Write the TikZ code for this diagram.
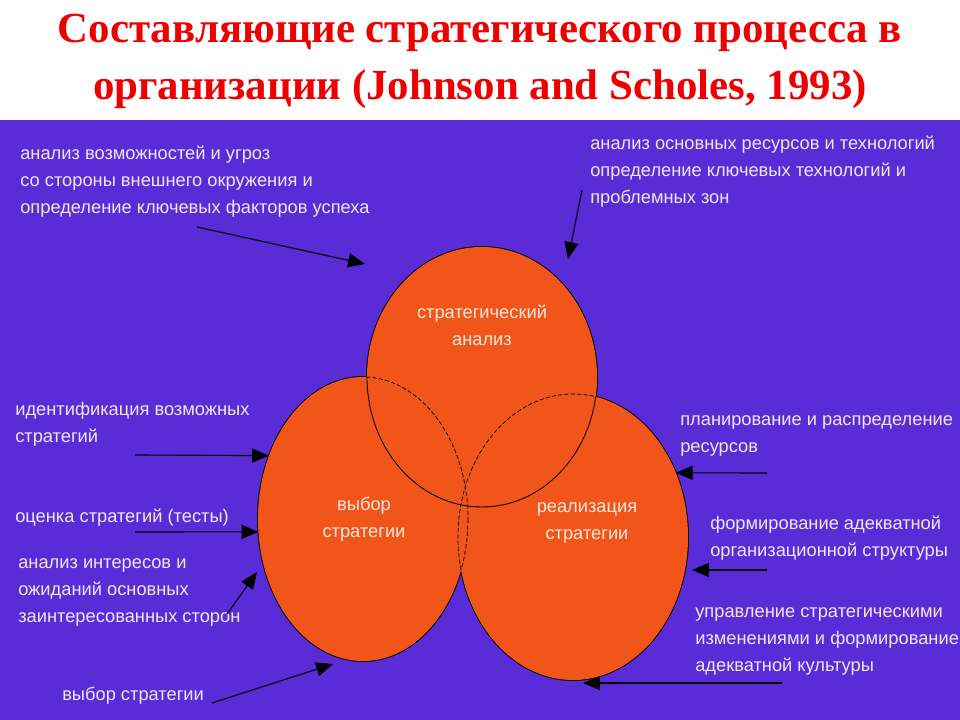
\documentclass[tikz,border=0pt]{standalone}
\usepackage{fontspec}
\setmainfont{Liberation Serif}
\setsansfont{Liberation Sans}
\usetikzlibrary{shapes.geometric,arrows.meta}
\pgfdeclarelayer{bg}
\pgfsetlayers{bg,main}
\definecolor{fon}{HTML}{5A2CD8}
\definecolor{krug}{HTML}{F2551A}
\definecolor{zag}{HTML}{EE0000}
\definecolor{txt}{HTML}{EEE6F4}
\definecolor{txtk}{HTML}{F8E6DA}

\begin{document}
\begin{tikzpicture}[x=0.025cm,y=-0.025cm,
    oval/.style={ellipse,inner sep=0pt,outer sep=0pt,fill=krug},
    lbl/.style={anchor=north west,align=left,inner sep=0pt,text=txt,
      font=\sffamily\fontsize{13}{19.2}\selectfont,execute at begin node=\strut},
    klbl/.style={align=center,inner sep=0pt,text=txtk,
      font=\sffamily\fontsize{13}{19.2}\selectfont},
    arr/.style={-{Triangle[length=12pt,width=10pt]},line width=0.8pt,draw=black}]
    \useasboundingbox (0,0) rectangle (960,720);
    \begin{pgfonlayer}{bg}
      \fill[white] (0,0) rectangle (960,120);
      \fill[fon] (0,120) rectangle (960,720);
    \end{pgfonlayer}

    % title
    \node [anchor=north,align=center,inner sep=0pt,text=zag,
      font=\bfseries\fontsize{30.5}{41}\selectfont] (title) at (480,1.7)
      {\strut Составляющие стратегического процесса в\\
       организации (Johnson and Scholes, 1993)};

    % the three ovals
    \node [oval,minimum width=5.75cm,minimum height=6.5cm] (anal) at (482,377) {};
    \node [oval,minimum width=5.25cm,minimum height=7.1cm] (vybor) at (363,519) {};
    \node [oval,minimum width=5.75cm,minimum height=7.15cm] (real) at (573,537) {};

    \begin{pgfonlayer}{bg}    % outer contour under the fills
      \draw [line width=1.4pt] (anal.center) ellipse [x radius=115,y radius=130]
        (vybor.center) ellipse [x radius=105,y radius=142]
        (real.center) ellipse [x radius=115,y radius=143];
    \end{pgfonlayer}

    % inner contours
    \begin{scope}
      \clip (anal.center) ellipse [x radius=115,y radius=130]
        (real.center) ellipse [x radius=115,y radius=143];
      \draw [line width=0.5pt,dash pattern=on 3pt off 1.5pt] (vybor.center) ellipse [x radius=105,y radius=142];
    \end{scope}
    \begin{scope}
      \clip (anal.center) ellipse [x radius=115,y radius=130]
        (vybor.center) ellipse [x radius=105,y radius=142];
      \draw [line width=0.5pt,dash pattern=on 3pt off 1.5pt] (real.center) ellipse [x radius=115,y radius=143];
    \end{scope}
    \begin{scope}
      \clip (vybor.center) ellipse [x radius=105,y radius=142]
        (real.center) ellipse [x radius=115,y radius=143];
      \draw [line width=0.6pt] (anal.center) ellipse [x radius=115,y radius=130];
    \end{scope}

    \node [klbl] (analt) at (482,325) {стратегический\\анализ};
    \node [klbl] (vybort) at (364,519) {выбор\\стратегии};
    \node [klbl] (realt) at (587,523) {реализация\\стратегии};

    % texts round the ovals
    \node [lbl] (t1) at (20,146) {анализ возможностей и угроз\\со стороны внешнего окружения и\\определение ключевых факторов успеха};
    \node [lbl] (t2) at (590,136) {анализ основных ресурсов и технологий\\определение ключевых технологий и\\проблемных зон};
    \node [lbl] (t3) at (15,402) {идентификация возможных\\стратегий};
    \node [lbl] (t4) at (15,503) {оценка стратегий (тесты)};
    \node [lbl] (t5) at (18,558) {анализ интересов и\\ожиданий основных\\заинтересованных сторон};
    \node [lbl] (t6) at (62,681) {выбор стратегии};
    \node [lbl] (t7) at (680,415) {планирование и распределение\\ресурсов};
    \node [lbl] (t8) at (710,516) {формирование адекватной\\организационной структуры};
    \node [lbl] (t9) at (695,607) {управление стратегическими\\изменениями и формирование\\адекватной культуры};

    % arrow ends
    \coordinate (a1) at (197,227);
    \coordinate (b1) at (365,264);
    \coordinate (a2) at (582,190);
    \coordinate (b2) at (568,259);
    \coordinate (a3) at (135,455);
    \coordinate (a4) at (135,532);
    \coordinate (a5) at (227,614);
    \coordinate (b5) at (257,572);
    \coordinate (a6) at (212,703);
    \coordinate (b6) at (333,664);
    \coordinate (a7) at (767,473);
    \coordinate (a8) at (767,570);
    \coordinate (b8) at (692,570);
    \coordinate (a9) at (782,683);
    \coordinate (b9) at (583,683);

    \draw [arr] (a1) -- (b1);
    \draw [arr] (a2) -- (b2);
    \draw [arr] (a3) -- (vybor.146);
    \draw [arr] (a4) -- (vybor.187);
    \draw [arr] (a5) -- (b5);
    \draw [arr] (a6) -- (b6);
    \draw [arr] (a7) -- (real.32);
    \draw [arr] (a8) -- (b8);
    \draw [arr] (a9) -- (b9);
  \end{tikzpicture}
\end{document}
